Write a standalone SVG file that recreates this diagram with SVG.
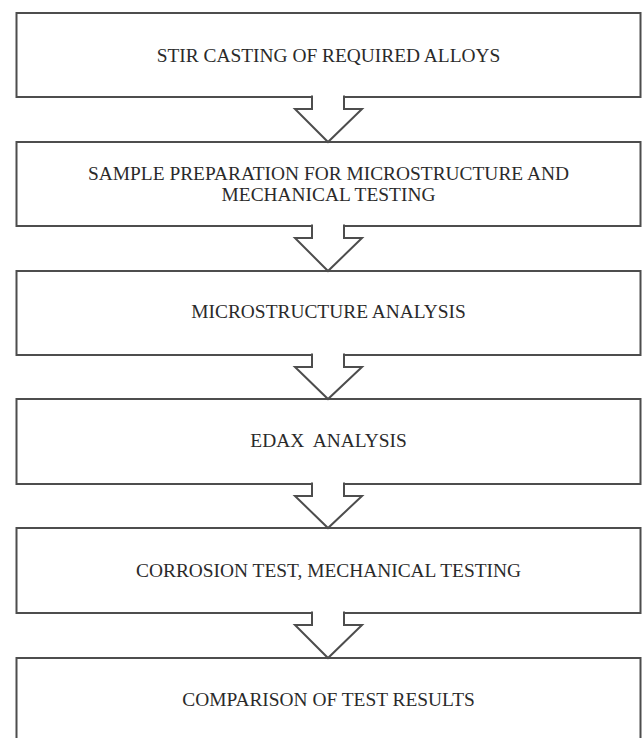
<svg xmlns="http://www.w3.org/2000/svg" width="643" height="738" viewBox="0 0 643 738">
<style>
.box{fill:#fff;stroke:#4d4d4d;stroke-width:2}
.arr{fill:#fff;stroke:#4d4d4d;stroke-width:2;stroke-linejoin:miter}
.t{font-family:"Liberation Serif","Times New Roman",serif;font-size:19.4px;fill:#2a2a2a;text-anchor:middle}
</style>
<rect width="643" height="738" fill="#fff"/>
<g id="n1"><rect class="box" x="16.5" y="13" width="624" height="84"/><text class="t" x="328.5" y="62">STIR CASTING OF REQUIRED ALLOYS</text></g>
<g id="n2"><rect class="box" x="16.5" y="142" width="624" height="84"/><text class="t" x="328.5" y="180">SAMPLE PREPARATION FOR MICROSTRUCTURE AND</text><text class="t" x="328.5" y="201">MECHANICAL TESTING</text></g>
<g id="n3"><rect class="box" x="16.5" y="271" width="624" height="84"/><text class="t" x="328.5" y="318">MICROSTRUCTURE ANALYSIS</text></g>
<g id="n4"><rect class="box" x="16.5" y="399" width="624" height="85"/><text class="t" x="328.5" y="447">EDAX&#160; ANALYSIS</text></g>
<g id="n5"><rect class="box" x="16.5" y="528" width="624" height="85"/><text class="t" x="328.5" y="577">CORROSION TEST, MECHANICAL TESTING</text></g>
<g id="n6"><rect class="box" x="16.5" y="658" width="624" height="90"/><text class="t" x="328.5" y="706">COMPARISON OF TEST RESULTS</text></g>
<g id="connectors">
<path class="arr" d="M312,95.5 V109 H295 L328,142 L362,109 H344 V95.5"/>
<path class="arr" d="M312,224.5 V238 H295 L328,271 L362,238 H344 V224.5"/>
<path class="arr" d="M312,353.5 V367 H295 L328,399 L362,367 H344 V353.5"/>
<path class="arr" d="M312,482.5 V496 H295 L328,528 L362,496 H344 V482.5"/>
<path class="arr" d="M312,611.5 V625 H295 L328,658 L362,625 H344 V611.5"/>
</g>
</svg>
